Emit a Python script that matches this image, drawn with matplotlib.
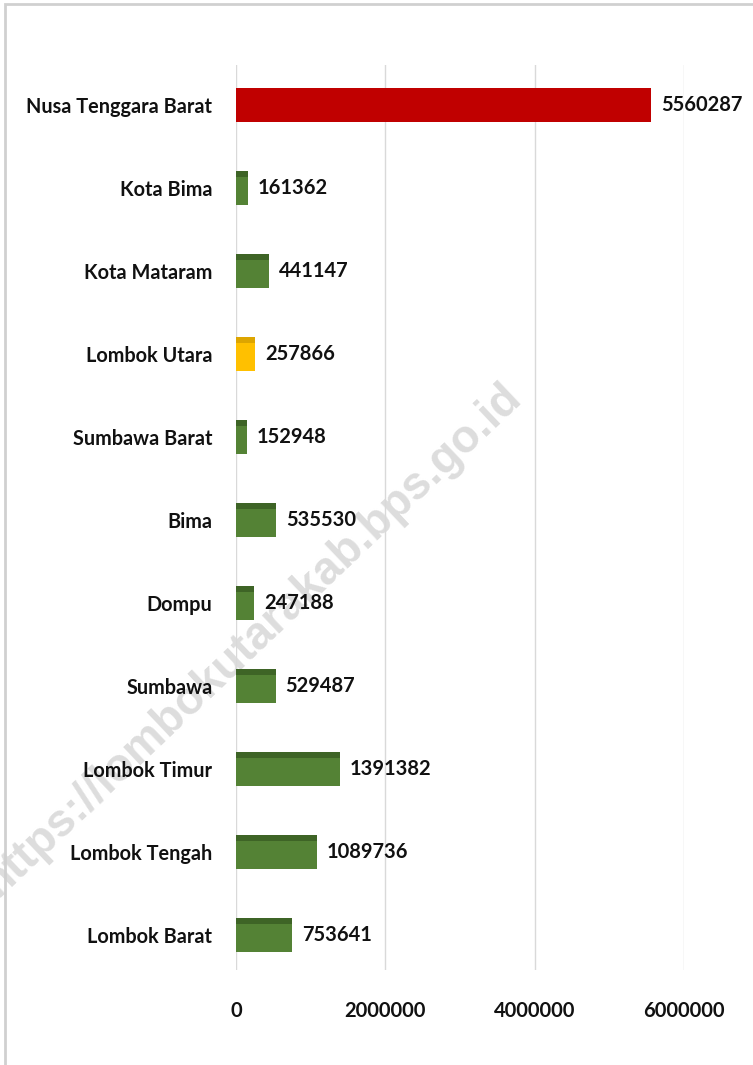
import matplotlib.pyplot as plt
from matplotlib.patches import Rectangle

# data (bottom to top)
wilayah = ['Lombok Barat', 'Lombok Tengah', 'Lombok Timur', 'Sumbawa', 'Dompu',
           'Bima', 'Sumbawa Barat', 'Lombok Utara', 'Kota Mataram', 'Kota Bima',
           'Nusa Tenggara Barat']
penduduk = [753641, 1089736, 1391382, 529487, 247188,
            535530, 152948, 257866, 441147, 161362, 5560287]
warna = ['#548235'] * 7 + ['#FFC000'] + ['#548235'] * 2 + ['#C00000']
warna_atas = ['#3E6426'] * 7 + ['#DDA500'] + ['#3E6426'] * 2 + ['#C00000']
xticks = [0, 2000000, 4000000, 6000000]

plt.rcParams['font.family'] = ['Lato', 'DejaVu Sans']

fig = plt.figure(figsize=(7.53, 10.65), dpi=100)
ax = fig.add_axes([236 / 753, 95 / 1065, 448 / 753, 905 / 1065])

# watermark (behind everything)
fig.text(252 / 753, 1 - 640 / 1065, 'https://lombokutarakab.bps.go.id', rotation=43.5,
         rotation_mode='anchor', ha='center', va='center', fontsize=33, fontweight='bold',
         color='#DDDDDD', family=['Liberation Sans', 'DejaVu Sans'], zorder=-1)
ax.patch.set_alpha(0)

y = list(range(len(wilayah)))
ax.barh(y, penduduk, height=0.41, color=warna, zorder=3)
# darker top strip for the pseudo 3D look
ax.barh([v + 0.17 for v in y], penduduk, height=0.07, color=warna_atas, zorder=4)

for yi, v in zip(y, penduduk):
    ax.text(v + 130000, yi, str(v), va='center', ha='left', fontsize=14.5,
            fontweight='bold', color='#111111', clip_on=False)

ax.set_xlim(0, 6000000)
ax.set_ylim(-0.42, 10.48)
ax.set_yticks(y)
ax.set_yticklabels(wilayah, fontsize=14.3, fontweight='bold', color='#111111')
ax.set_xticks(xticks)
ax.set_xticklabels([str(t) for t in xticks], fontsize=14.5, fontweight='bold', color='#111111')
ax.tick_params(axis='both', length=0)
ax.tick_params(axis='y', pad=17)
ax.tick_params(axis='x', pad=22)
ax.grid(axis='x', color='#D9D9D9', linewidth=1, zorder=0)
for s in ax.spines.values():
    s.set_visible(False)

# outer frame (left and top visible)
fig.patches.append(Rectangle((5 / 753, -0.1), 1.2, 1.1 - 4 / 1065, transform=fig.transFigure,
                             fill=False, edgecolor='#D0D0D0', linewidth=2))

fig.savefig('out.png', dpi=100)
